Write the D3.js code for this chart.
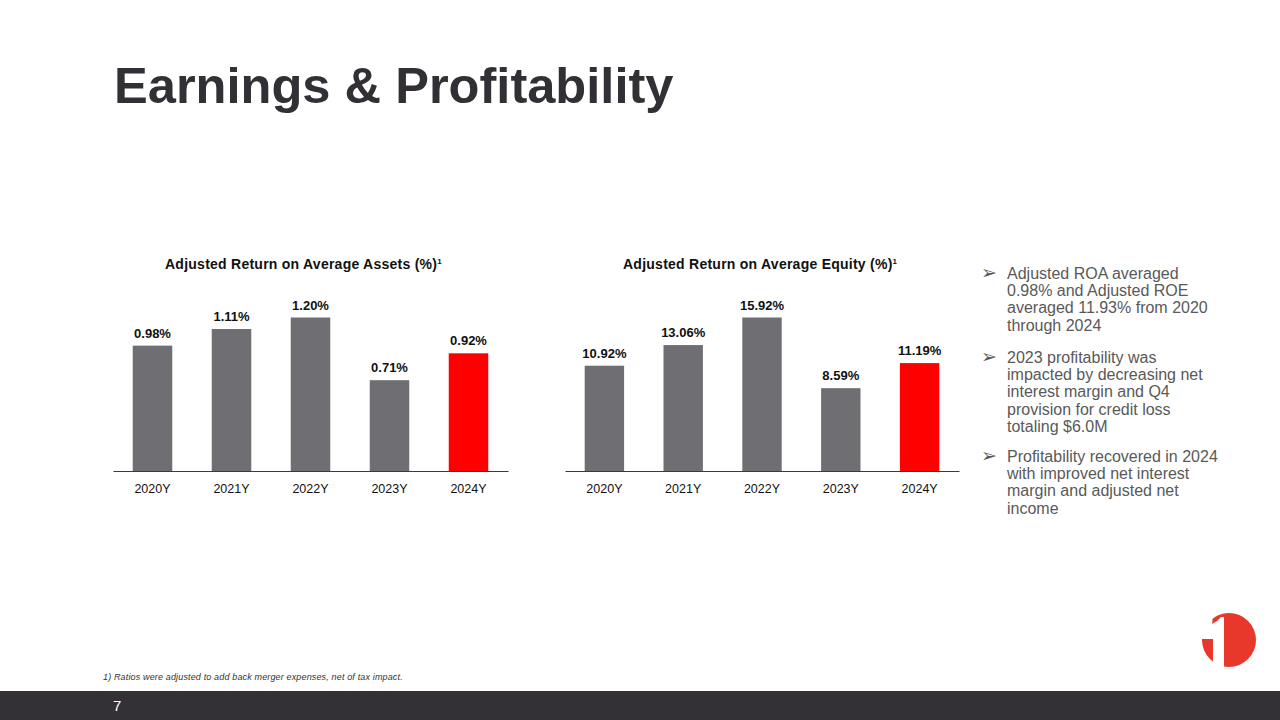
<!DOCTYPE html>
<html>
<head>
<meta charset="utf-8">
<script src="https://cdn.jsdelivr.net/npm/d3@7"></script>
<style>
  html, body { margin: 0; padding: 0; background: #ffffff; }
  svg { display: block; font-family: Arial, "Liberation Sans", sans-serif; }
</style>
</head>
<body>
<svg id="chart" width="1280" height="720"></svg>
<script>
// ---- data ----
const years = ["2020Y", "2021Y", "2022Y", "2023Y", "2024Y"];
const roaValues = [0.98, 1.11, 1.20, 0.71, 0.92];
const roeValues = [10.92, 13.06, 15.92, 8.59, 11.19];
const roaTitle = "Adjusted Return on Average Assets (%)";
const roeTitle = "Adjusted Return on Average Equity (%)";
const bulletParas = [
  ["Adjusted ROA averaged", "0.98% and Adjusted ROE", "averaged 11.93% from 2020", "through 2024"],
  ["2023 profitability was", "impacted by decreasing net", "interest margin and Q4", "provision for credit loss", "totaling $6.0M"],
  ["Profitability recovered in 2024", "with improved net interest", "margin and adjusted net", "income"]
];
const footnote = "1) Ratios were adjusted to add back merger expenses, net of tax impact.";
const pageNumber = "7";
const pageTitle = "Earnings & Profitability";

const svg = d3.select("#chart");

svg.append("rect").attr("width", 1280).attr("height", 720).attr("fill", "#ffffff");

// page title
svg.append("text")
  .attr("x", 114).attr("y", 103)
  .attr("font-size", 50.6).attr("font-weight", "bold")
  .attr("fill", "#323035")
  .text(pageTitle);

function drawChart(cfg) {
  const g = svg.append("g");
  const x = d3.scaleBand().domain(years).range([cfg.x0, cfg.x1]).paddingInner(0.5).paddingOuter(0.25);
  const maxV = d3.max(cfg.values);
  const y = d3.scaleLinear().domain([0, maxV]).range([cfg.base, cfg.base - 153.5]);

  const t = g.append("text")
    .attr("x", cfg.titleX).attr("y", 269)
    .attr("font-size", 14).attr("font-weight", "bold")
    .attr("letter-spacing", 0.25)
    .attr("fill", "#111111");
  t.append("tspan").text(cfg.title);
  t.append("tspan").attr("font-size", 8).attr("dy", -5).attr("dx", 0).text("1");

  g.selectAll("rect.bar").data(cfg.values).enter().append("rect")
    .attr("class", "bar")
    .attr("x", (d, i) => x(years[i]))
    .attr("width", x.bandwidth())
    .attr("y", d => y(d))
    .attr("height", d => y(0) - y(d))
    .attr("fill", (d, i) => i === years.length - 1 ? "#ff0000" : "#6f6e72");

  g.selectAll("text.val").data(cfg.values).enter().append("text")
    .attr("class", "val")
    .attr("x", (d, i) => x(years[i]) + x.bandwidth() / 2)
    .attr("y", d => y(d) - 8)
    .attr("text-anchor", "middle")
    .attr("font-size", 13).attr("font-weight", "bold")
    .attr("fill", "#111111")
    .text(d => d.toFixed(2) + "%");

  const axis = g.append("g")
    .attr("transform", `translate(0,${cfg.base})`)
    .call(d3.axisBottom(x).tickSize(0).tickPadding(13));
  axis.select(".domain").attr("stroke", "#3a3a3a").attr("stroke-width", 1);
  axis.selectAll(".tick text")
    .attr("font-size", 12.5)
    .attr("font-family", "Arial, 'Liberation Sans', sans-serif")
    .attr("fill", "#111111");
}

drawChart({ values: roaValues, title: roaTitle, x0: 113, x1: 508, base: 471, titleX: 165 });
drawChart({ values: roeValues, title: roeTitle, x0: 565, x1: 959, base: 471, titleX: 623 });

// bullets
const paraStarts = [279, 363, 462];
bulletParas.forEach((lines, pi) => {
  svg.append("text")
    .attr("x", 981).attr("y", paraStarts[pi])
    .attr("font-size", 19)
    .attr("font-family", "'DejaVu Sans', sans-serif")
    .attr("fill", "#595959")
    .text("\u27A2");
  lines.forEach((ln, li) => {
    svg.append("text")
      .attr("x", 1007).attr("y", paraStarts[pi] + li * 17.2)
      .attr("font-size", 16)
      .attr("fill", "#595959")
      .text(ln);
  });
});

// footnote
svg.append("text")
  .attr("x", 103).attr("y", 680)
  .attr("font-size", 9).attr("font-style", "italic")
  .attr("letter-spacing", 0.15)
  .attr("fill", "#333333")
  .text(footnote);

// footer bar
svg.append("rect").attr("x", 0).attr("y", 691).attr("width", 1280).attr("height", 29).attr("fill", "#333136");
svg.append("text")
  .attr("x", 113).attr("y", 711)
  .attr("font-size", 15)
  .attr("fill", "#ffffff")
  .text(pageNumber);

// logo
const logo = svg.append("g");
logo.append("circle").attr("cx", 1229).attr("cy", 640).attr("r", 27).attr("fill", "#e8382b");
logo.append("path")
  .attr("d", "M1198,608 L1208,608 Q1214,618 1212,624 Q1218,621 1221,617 L1224,617 L1224,672 L1213,672 L1213,639 L1198,639 Z")
  .attr("fill", "#ffffff");
</script>
</body>
</html>
